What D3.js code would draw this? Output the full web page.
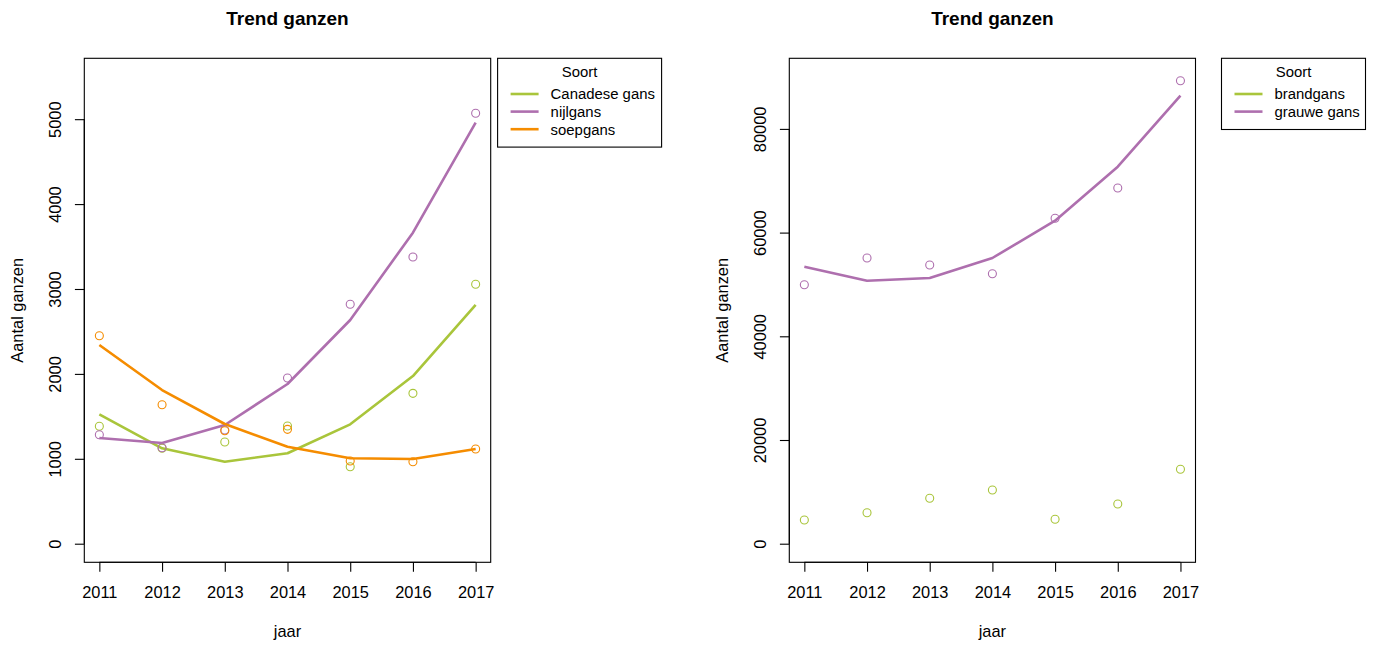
<!DOCTYPE html>
<html><head><meta charset="utf-8">
<script src="https://cdn.jsdelivr.net/npm/d3@7"></script>
<style>
html,body{margin:0;padding:0;background:#fff;}
text{font-family:"Liberation Sans",Arial,Helvetica,sans-serif;fill:#000;}
</style></head>
<body>
<svg id="chart" width="1373" height="645"></svg>
<script>
const years = [2011, 2012, 2013, 2014, 2015, 2016, 2017];

// Left panel
const leftSpecies = ["Canadese gans", "nijlgans", "soepgans"];
const canadeseObs = [1383, 1124, 1198, 1386, 907, 1771, 3055];
const canadeseFit = [1524, 1124, 966, 1065, 1406, 1975, 2812];
const nijlObs = [1284, 1131, 1340, 1952, 2820, 3377, 5069];
const nijlFit = [1245, 1186, 1398, 1881, 2635, 3663, 4959];
const soepObs = [2450, 1637, 1331, 1347, 974, 966, 1115];
const soepFit = [2340, 1810, 1410, 1143, 1006, 998, 1115];
const leftYTicks = [0, 1000, 2000, 3000, 4000, 5000];

// Right panel
const rightSpecies = ["brandgans", "grauwe gans"];
const brandObs = [4571, 5979, 8756, 10357, 4706, 7657, 14349];
const grauweObs = [49952, 55101, 53751, 52073, 62758, 68602, 89296];
const grauweFit = [53423, 50723, 51244, 55101, 62295, 72710, 86403];
const rightYTicks = [0, 20000, 40000, 60000, 80000];

const GREEN = "#a9c53b", PURPLE = "#ae6fae", ORANGE = "#f58c00";
const FS = "16.4px", LFS = "14.9px";

const svg = d3.select("#chart");

function panel(cfg) {
  const g = svg.append("g");
  const x = d3.scaleLinear().domain([2011 - 0.24, 2017 + 0.24]).range([cfg.left, cfg.right]);
  const y = d3.scaleLinear().domain(cfg.ydom).range([562.3, 58.3]);

  // title
  g.append("text").attr("x", (cfg.left + cfg.right) / 2).attr("y", 25)
    .attr("text-anchor", "middle").style("font-weight", "bold").style("font-size", "19px")
    .text("Trend ganzen");

  // lines
  const line = d3.line().x((d, i) => x(years[i])).y(d => y(d));
  cfg.series.forEach(s => {
    if (s.fit) g.append("path").attr("d", line(s.fit)).attr("fill", "none")
      .attr("stroke", s.color).attr("stroke-width", 2.6).attr("stroke-linejoin", "round");
  });
  cfg.series.forEach(s => {
    g.selectAll(null).data(s.obs).enter().append("circle")
      .attr("cx", (d, i) => x(years[i])).attr("cy", d => y(d)).attr("r", 4)
      .attr("fill", "none").attr("stroke", s.color).attr("stroke-width", 1.1);
  });

  // box
  g.append("rect").attr("x", cfg.left).attr("y", 58.3)
    .attr("width", cfg.right - cfg.left).attr("height", 562.3 - 58.3)
    .attr("fill", "none").attr("stroke", "#000").attr("stroke-width", 1.1);

  // x axis
  const xa = g.append("g").attr("transform", "translate(0,562.3)")
    .call(d3.axisBottom(x).tickValues(years).tickFormat(d3.format("d")).tickSize(9.4).tickPadding(14.3));
  xa.select(".domain").attr("d", `M${x(2011)},0H${x(2017)}`).attr("stroke-width", 1.1);
  xa.selectAll(".tick line").attr("stroke-width", 1.1);
  xa.selectAll("text").style("font-size", FS).attr("font-family", null);

  // y axis
  const ya = g.append("g").attr("transform", `translate(${cfg.left},0)`)
    .call(d3.axisLeft(y).tickValues(cfg.yticks).tickFormat(d3.format("d")).tickSize(9.4));
  ya.select(".domain").attr("d", `M0,${y(cfg.yticks[0])}V${y(cfg.yticks[cfg.yticks.length - 1])}`).attr("stroke-width", 1.1);
  ya.selectAll(".tick line").attr("stroke-width", 1.1);
  ya.selectAll(".tick text").attr("x", null).attr("dy", null)
    .attr("transform", `translate(-29.5,0) rotate(-90)`)
    .attr("text-anchor", "middle").attr("dominant-baseline", "central")
    .style("font-size", FS);

  // axis titles
  g.append("text").attr("x", (cfg.left + cfg.right) / 2).attr("y", 637)
    .attr("text-anchor", "middle").style("font-size", FS).text("jaar");
  g.append("text").attr("transform", `translate(${cfg.left - 67},310.3) rotate(-90)`)
    .attr("text-anchor", "middle").attr("dominant-baseline", "central")
    .style("font-size", FS).text("Aantal ganzen");

  // legend
  const L = cfg.legend;
  const lg = g.append("g");
  lg.append("rect").attr("x", L.x).attr("y", 58.3).attr("width", L.w)
    .attr("height", 36 + 17.6 * cfg.series.length)
    .attr("fill", "#fff").attr("stroke", "#000").attr("stroke-width", 1.1);
  lg.append("text").attr("x", L.x + L.titleDx).attr("y", 76.5).attr("text-anchor", "middle")
    .style("font-size", LFS).text("Soort");
  cfg.series.forEach((s, i) => {
    const yy = 94 + 17.6 * i;
    lg.append("line").attr("x1", L.x + 13).attr("x2", L.x + 41).attr("y1", yy).attr("y2", yy)
      .attr("stroke", s.color).attr("stroke-width", 2.6);
    lg.append("text").attr("x", L.x + 53).attr("y", yy + 5.3).style("font-size", LFS).text(s.name);
  });
}

panel({
  left: 84.3, right: 490.7, ydom: [-219, 5717], yticks: leftYTicks,
  series: [
    { name: leftSpecies[0], color: GREEN, obs: canadeseObs, fit: canadeseFit },
    { name: leftSpecies[1], color: PURPLE, obs: nijlObs, fit: nijlFit },
    { name: leftSpecies[2], color: ORANGE, obs: soepObs, fit: soepFit }
  ],
  legend: { x: 497.6, w: 164, titleDx: 82 }
});

panel({
  left: 789.3, right: 1195.5, ydom: [-3587, 93616], yticks: rightYTicks,
  series: [
    { name: rightSpecies[0], color: GREEN, obs: brandObs, fit: null },
    { name: rightSpecies[1], color: PURPLE, obs: grauweObs, fit: grauweFit }
  ],
  legend: { x: 1221.5, w: 144, titleDx: 72 }
});
</script>
</body></html>
